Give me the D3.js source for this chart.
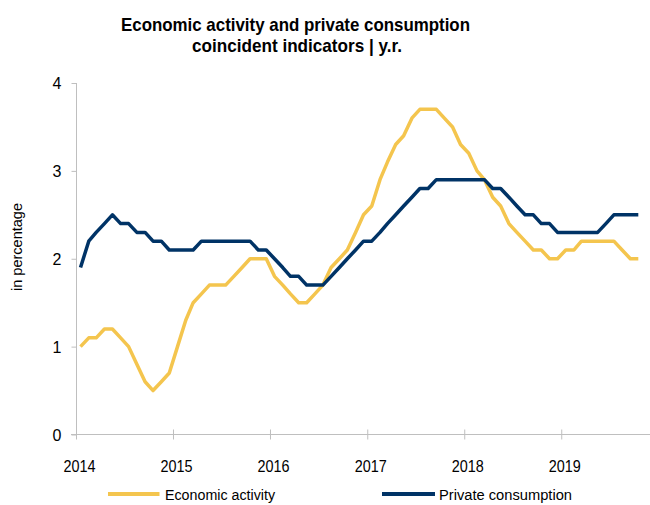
<!DOCTYPE html>
<html>
<head>
<meta charset="utf-8">
<script src="https://cdn.jsdelivr.net/npm/d3@7"></script>
<style>
  html, body { margin: 0; padding: 0; background: #fff; }
  svg { display: block; }
  text { font-family: "Liberation Sans", Arial, sans-serif; fill: #000; }
</style>
</head>
<body>
<script>
// ---- data ----
const startYear = 2014;
const yearTicks = ["2014", "2015", "2016", "2017", "2018", "2019"];
const yTicks = [0, 1, 2, 3, 4];
const economicActivity = [
  1.0, 1.1, 1.1, 1.2, 1.2, 1.1, 1.0, 0.8, 0.6, 0.5, 0.6, 0.7,
  1.0, 1.3, 1.5, 1.6, 1.7, 1.7, 1.7, 1.8, 1.9, 2.0, 2.0, 2.0,
  1.8, 1.7, 1.6, 1.5, 1.5, 1.6, 1.7, 1.9, 2.0, 2.1, 2.3, 2.5,
  2.6, 2.9, 3.1, 3.3, 3.4, 3.6, 3.7, 3.7, 3.7, 3.6, 3.5, 3.3,
  3.2, 3.0, 2.9, 2.7, 2.6, 2.4, 2.3, 2.2, 2.1, 2.1, 2.0, 2.0,
  2.1, 2.1, 2.2, 2.2, 2.2, 2.2, 2.2, 2.1, 2.0, 2.0
];
const privateConsumption = [
  1.9, 2.2, 2.3, 2.4, 2.5, 2.4, 2.4, 2.3, 2.3, 2.2, 2.2, 2.1,
  2.1, 2.1, 2.1, 2.2, 2.2, 2.2, 2.2, 2.2, 2.2, 2.2, 2.1, 2.1,
  2.0, 1.9, 1.8, 1.8, 1.7, 1.7, 1.7, 1.8, 1.9, 2.0, 2.1, 2.2,
  2.2, 2.3, 2.4, 2.5, 2.6, 2.7, 2.8, 2.8, 2.9, 2.9, 2.9, 2.9,
  2.9, 2.9, 2.9, 2.8, 2.8, 2.7, 2.6, 2.5, 2.5, 2.4, 2.4, 2.3,
  2.3, 2.3, 2.3, 2.3, 2.3, 2.4, 2.5, 2.5, 2.5, 2.5
];
const seriesNames = ["Economic activity", "Private consumption"];
const seriesColors = ["#F4C54E", "#003366"];
const titleLines = ["Economic activity and private consumption", "coincident indicators | y.r."];
const yLabel = "in percentage";

// ---- layout ----
const W = 650, H = 505;
const svg = d3.select("body").append("svg").attr("width", W).attr("height", H);
svg.append("rect").attr("width", W).attr("height", H).attr("fill", "#fff");

const x = d3.scaleTime()
  .domain([new Date(2014, 0, 1), new Date(2019, 11, 1)])
  .range([76, 650]);
const y = d3.scaleLinear().domain([0, 4]).range([434.5, 83]);

const dateOf = i => new Date(startYear, i, 18);
const axisColor = "#BFBFBF";

// y axis
const gy = svg.append("g").attr("transform", "translate(76.5,0)")
  .call(d3.axisLeft(y).tickValues(yTicks).tickSize(5).tickPadding(10).tickFormat(d3.format("d")));
gy.select(".domain").attr("stroke", axisColor).attr("d", `M0,${y(4)}V${y(0)}`);
gy.selectAll(".tick line").attr("stroke", axisColor);
gy.selectAll(".tick text").attr("font-size", 16).attr("fill", "#000")
  .attr("font-family", "'Liberation Sans', Arial, sans-serif").attr("dy", "0.36em");

// x axis
const yearDates = yearTicks.map(t => new Date(+t, 0, 1));
const gx = svg.append("g").attr("transform", `translate(0,${y(0)})`)
  .call(d3.axisBottom(x).tickValues(yearDates).tickSize(5).tickFormat(d3.timeFormat("%Y")));
gx.select(".domain").attr("stroke", axisColor).attr("d", `M71,0H650`);
gx.selectAll(".tick line").attr("stroke", axisColor).attr("y1", -5).attr("y2", 5);
gx.selectAll(".tick text").attr("font-size", 16).attr("fill", "#000")
  .attr("font-family", "'Liberation Sans', Arial, sans-serif")
  .attr("y", 37.5).attr("dy", 0).attr("x", 3)
  .attr("textLength", 32).attr("lengthAdjust", "spacingAndGlyphs");
svg.selectAll(".domain, .tick line").attr("stroke-width", 1);

// lines
const line = d3.line().x((d, i) => x(dateOf(i))).y(d => y(d));
[economicActivity, privateConsumption].forEach((s, k) => {
  svg.append("path").datum(s).attr("d", line)
    .attr("fill", "none").attr("stroke", seriesColors[k])
    .attr("stroke-width", 3.5).attr("stroke-linejoin", "round");
});

// title
const titleFont = "'Liberation Sans Narrow', 'Arial Narrow', 'Liberation Sans', Arial, sans-serif";
const titleSpecs = [{x: 121, y: 30.5, len: 349}, {x: 192, y: 51.5, len: 210}];
titleLines.forEach((t, i) => {
  svg.append("text").text(t)
    .attr("x", titleSpecs[i].x).attr("y", titleSpecs[i].y)
    .attr("font-family", titleFont).attr("font-weight", "bold").attr("font-size", 18.5)
    .attr("textLength", titleSpecs[i].len).attr("lengthAdjust", "spacingAndGlyphs");
});

// y label
svg.append("text").text(yLabel)
  .attr("transform", "translate(22,247) rotate(-90)")
  .attr("text-anchor", "middle").attr("font-size", 14.5)
  .attr("textLength", 88).attr("lengthAdjust", "spacingAndGlyphs");

// legend
const legendSpecs = [{x0: 108, x1: 159.5, tx: 165, len: 110}, {x0: 382, x1: 435, tx: 439, len: 133}];
seriesNames.forEach((n, k) => {
  const L = legendSpecs[k];
  svg.append("line").attr("x1", L.x0).attr("x2", L.x1).attr("y1", 494).attr("y2", 494)
    .attr("stroke", seriesColors[k]).attr("stroke-width", 4);
  svg.append("text").text(n).attr("x", L.tx).attr("y", 499.5)
    .attr("font-size", 15.5).attr("textLength", L.len).attr("lengthAdjust", "spacingAndGlyphs");
});
</script>
</body>
</html>
